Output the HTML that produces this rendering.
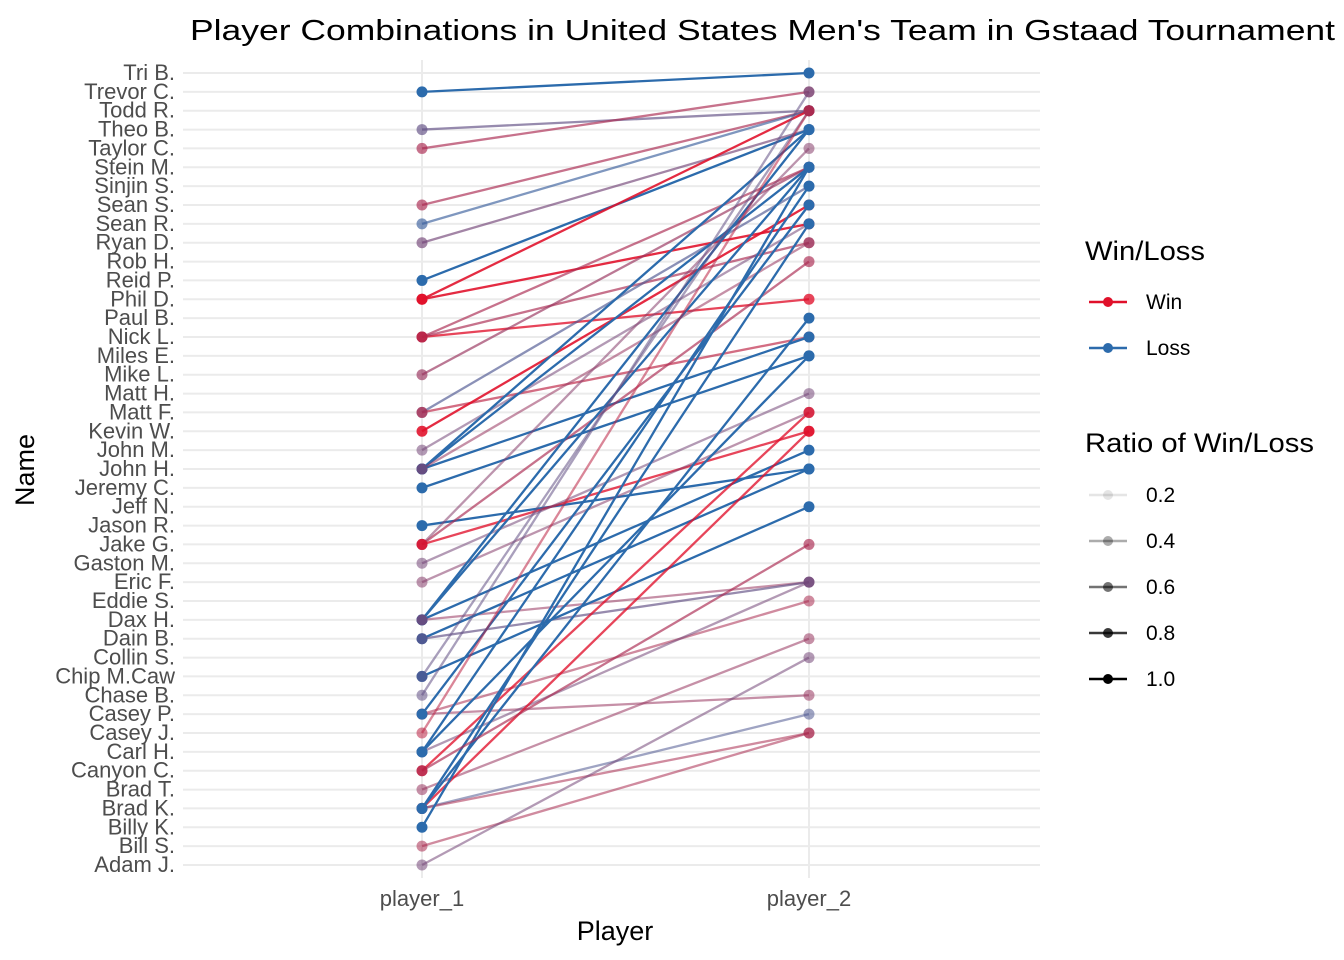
<!DOCTYPE html>
<html><head><meta charset="utf-8"><style>
html,body{margin:0;padding:0;background:#fff;}
svg{display:block;font-family:"Liberation Sans",Arial,sans-serif;}
</style></head><body>
<svg id="chart" width="1344" height="960" viewBox="0 0 1344 960">
<text x="190" y="40" font-size="29" fill="#000" textLength="1145" lengthAdjust="spacingAndGlyphs">Player Combinations in United States Men's Team in Gstaad Tournament</text>
<g id="grid"></g>
<g id="ylabels"></g>
<g id="lines"></g>
<g id="points"></g>
<text x="422" y="906" font-size="22" fill="#4d4d4d" text-anchor="middle">player_1</text>
<text x="809" y="906" font-size="22" fill="#4d4d4d" text-anchor="middle">player_2</text>
<text x="615" y="940" font-size="27" fill="#000" text-anchor="middle">Player</text>
<text transform="translate(34,470) rotate(-90)" font-size="27" fill="#000" text-anchor="middle">Name</text>
<g>
<text x="1085" y="260" font-size="27" fill="#000" textLength="120" lengthAdjust="spacingAndGlyphs">Win/Loss</text>
<g><line x1="1089" y1="302" x2="1127" y2="302" stroke="#e0102a" stroke-width="2.5"/><circle cx="1108" cy="302" r="5" fill="#e0102a"/><text x="1146" y="309" font-size="21" fill="#000">Win</text></g>
<g><line x1="1089" y1="348" x2="1127" y2="348" stroke="#2c6bac" stroke-width="2.5"/><circle cx="1108" cy="348" r="5" fill="#2c6bac"/><text x="1146" y="355" font-size="21" fill="#000">Loss</text></g>
</g>
<g id="alphaLegend">
<text x="1085" y="452" font-size="27" fill="#000" textLength="229" lengthAdjust="spacingAndGlyphs">Ratio of Win/Loss</text>
</g>
</svg>
<script>
const names = ["Adam J.","Bill S.","Billy K.","Brad K.","Brad T.","Canyon C.","Carl H.","Casey J.","Casey P.","Chase B.","Chip M.Caw","Collin S.","Dain B.","Dax H.","Eddie S.","Eric F.","Gaston M.","Jake G.","Jason R.","Jeff N.","Jeremy C.","John H.","John M.","Kevin W.","Matt F.","Matt H.","Mike L.","Miles E.","Nick L.","Paul B.","Phil D.","Reid P.","Rob H.","Ryan D.","Sean R.","Sean S.","Sinjin S.","Stein M.","Taylor C.","Theo B.","Todd R.","Trevor C.","Tri B."];
const player1 = [41,39,38,35,34,33,31,30,30,28,28,28,26,24,24,23,22,21,21,21,21,20,18,17,17,17,16,15,13,13,13,13,12,12,10,10,9,8,8,8,7,6,6,5,4,3,3,3,3,3,2,1,0,5,6];
const player2 = [42,40,41,40,40,39,39,40,34,37,30,33,37,36,28,35,34,39,37,28,33,27,21,38,32,23,25,24,39,37,22,15,21,15,19,40,41,9,14,35,40,15,36,24,12,8,7,23,34,29,37,7,11,17,27];
const winShare = [0,0.3,0.7,0.7,0.1,0.4,0,1,1,0.7,1,0.7,0.6,0.2,0.8,1,0.4,0,0,0,0.6,0,0,0.5,0.7,1,0.4,0.5,0,0,0,0.6,0,0.3,0,0.3,0.3,0.6,0.7,0,0.8,0.4,0,1,0.6,0.2,0.7,1,0,0,0,0.7,0.4,0.7,0];
const ratio = [1,0.7,0.7,0.7,0.7,0.7,1,0.9,0.9,0.7,0.8,0.7,0.7,0.7,0.7,0.9,0.6,1,1,1,0.6,1,1,0.6,0.7,0.8,0.6,0.6,1,1,1,0.6,1,0.7,1,0.6,0.6,0.6,0.6,1,0.6,0.6,1,0.8,0.6,0.6,0.6,0.8,1,1,1,0.6,0.6,0.7,1];
const alphaTicks = ["0.2","0.4","0.6","0.8","1.0"];

const NS="http://www.w3.org/2000/svg";
const yTop=73, yBot=865, x1=422, x2=809;
function yScale(i){return yBot-(yBot-yTop)*i/(names.length-1);}
function alphaScale(r){return 0.1+0.9*(r-0.2)/0.8;}
const RED=[224,16,42], BLUE=[44,107,172];
function col(s){return "rgb("+RED.map((c,k)=>Math.round(c*s+BLUE[k]*(1-s))).join(",")+")";}
function mk(tag,attrs,parent){const e=document.createElementNS(NS,tag);for(const k in attrs)e.setAttribute(k,attrs[k]);parent.appendChild(e);return e;}

const grid=document.getElementById('grid');
names.forEach((n,i)=>{
  const l=mk('line',{x1:183,x2:1040,y1:yScale(i),y2:yScale(i),stroke:'#ebebeb','stroke-width':2},grid);
  
  
});
[x1,x2].forEach((x,k)=>{
  const l=mk('line',{x1:x,x2:x,y1:60,y2:878,stroke:'#ebebeb','stroke-width':2},grid);
  
  
});
const yl=document.getElementById('ylabels');
names.forEach((n,i)=>{
  const t=mk('text',{x:175,y:yScale(i)+7,'font-size':22,fill:'#4d4d4d','text-anchor':'end'},yl);
  t.textContent=n;
  
  
});
const lg=document.getElementById('lines'), pg=document.getElementById('points');
player1.forEach((a,i)=>{
  const b=player2[i], c=col(winShare[i]), op=alphaScale(ratio[i]);
  const l=mk('line',{x1:x1,y1:yScale(a),x2:x2,y2:yScale(b),stroke:c,'stroke-width':2.3,'stroke-opacity':op},lg);
  
  
  [[x1,a],[x2,b]].forEach(p=>{
    const ci=mk('circle',{cx:p[0],cy:yScale(p[1]),r:5.5,fill:c,'fill-opacity':op},pg);
    
    
  });
});
const al=document.getElementById('alphaLegend');
alphaTicks.forEach((t,i)=>{
  const y=495+i*46, op=alphaScale(parseFloat(t));
  const g=mk('g',{},al);
  
  
  mk('line',{x1:1089,x2:1127,y1:y,y2:y,stroke:'#000','stroke-width':2.5,'stroke-opacity':op},g);
  mk('circle',{cx:1108,cy:y,r:5,fill:'#000','fill-opacity':op},g);
  const tx=mk('text',{x:1146,y:y+7,'font-size':21,fill:'#000'},g);
  tx.textContent=t;
});
</script>
</body></html>
